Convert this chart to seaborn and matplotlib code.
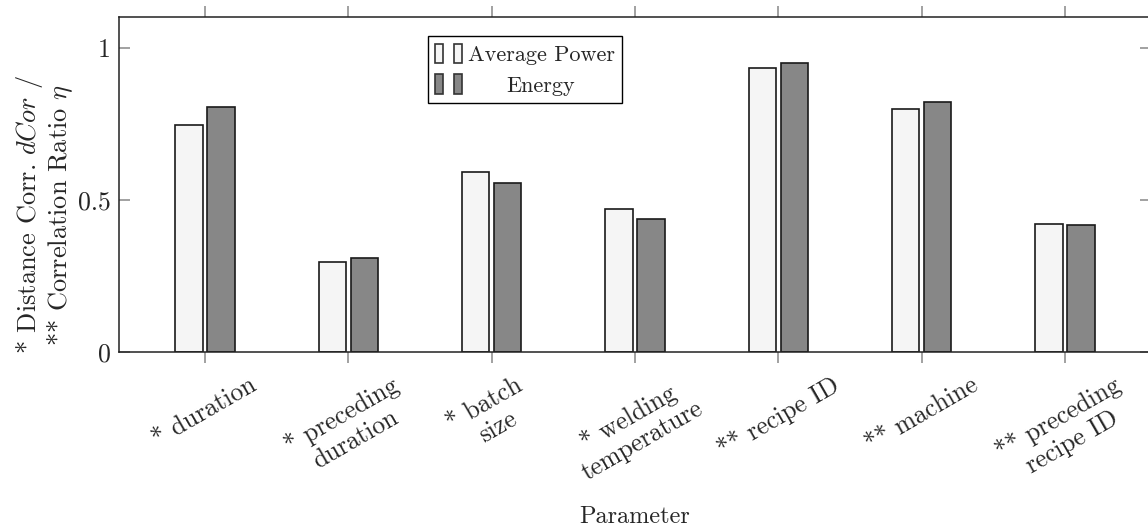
import matplotlib
matplotlib.use("Agg")
import matplotlib.pyplot as plt
import seaborn as sns
import pandas as pd
from matplotlib.patches import Rectangle
from matplotlib.legend_handler import HandlerTuple

categories = ["* duration", "* preceding\nduration", "* batch\nsize",
              "* welding\ntemperature", "** recipe ID", "** machine",
              "** preceding\nrecipe ID"]
series_names = ["Average Power", "Energy"]
avg_power = [0.747, 0.297, 0.592, 0.470, 0.934, 0.799, 0.420]
energy = [0.807, 0.308, 0.556, 0.438, 0.951, 0.822, 0.417]
y_ticks = [0, 0.5, 1]
y_tick_labels = ["0", "0.5", "1"]

df = pd.DataFrame({
    "Parameter": categories * 2,
    "value": avg_power + energy,
    "series": [series_names[0]] * len(categories) + [series_names[1]] * len(categories),
})

sns.set_style("white")
plt.rcParams["font.family"] = ["cmr10", "DejaVu Serif"]
plt.rcParams["mathtext.fontset"] = "cm"
plt.rcParams["axes.formatter.use_mathtext"] = True

colors = ["#f5f5f5", "#878787"]

fig = plt.figure(figsize=(11.48, 5.29), dpi=100)
ax = fig.add_axes([119 / 1148, 1 - 352 / 529, (1151 - 119) / 1148, (352 - 17) / 529])

sns.barplot(data=df, x="Parameter", y="value", hue="series", hue_order=series_names,
            palette=colors, width=0.45, gap=0.15, edgecolor="#1a1a1a", linewidth=1.2,
            legend=False, ax=ax, order=categories)

ax.set_xlim(-0.6, 6.6)
ax.set_ylim(0, 1.102)
ax.set_yticks(y_ticks)
ax.set_yticklabels(y_tick_labels, fontsize=18.5)
ax.set_xticks(range(len(categories)))
ax.set_xticklabels(categories, rotation=30, ha="center", va="top",
                   multialignment="center", fontsize=18.3, linespacing=1.15)

ax.tick_params(axis="x", direction="out", top=True, bottom=True, length=8,
               width=1.3, color="#9a9a9a", pad=7)
ax.tick_params(axis="y", direction="in", left=True, right=True, length=8,
               width=1.3, color="#9a9a9a", pad=6)

for s in ["left", "top", "bottom"]:
    ax.spines[s].set_color("#222222")
    ax.spines[s].set_linewidth(1.1)
ax.spines["right"].set_visible(False)

ax.set_xlabel("Parameter", fontsize=17.5, labelpad=13)
ax.set_ylabel("* Distance Corr. $dCor$ /\n** Correlation Ratio $\\eta$",
              fontsize=19, multialignment="center", linespacing=0.98)
ax.yaxis.set_label_coords(-0.043, 0.409)

handles = []
for c in colors:
    r1 = Rectangle((0, 0), 1, 1, facecolor=c, edgecolor="#333333", linewidth=1.2)
    r2 = Rectangle((0, 0), 1, 1, facecolor=c, edgecolor="#333333", linewidth=1.2)
    handles.append((r1, r2))

leg = ax.legend(handles, series_names, loc="upper left", bbox_to_anchor=(0.299, 0.943),
                borderaxespad=0, fontsize=16, frameon=True, fancybox=False,
                handler_map={tuple: HandlerTuple(ndivide=None, pad=0.5)},
                handlelength=1.2, handleheight=0.95, handletextpad=0.25,
                borderpad=0.35, labelspacing=0.42)
leg.get_frame().set_edgecolor("black")
leg.get_frame().set_linewidth(1.0)
leg.get_frame().set_alpha(1)

# center the shorter legend entry like the reference
fig.canvas.draw()
renderer = fig.canvas.get_renderer()
texts = leg.get_texts()
w0 = texts[0].get_window_extent(renderer).width
w1 = texts[1].get_window_extent(renderer).width
texts[1].set_x((w0 - w1) / 2)

fig.savefig("out.png", dpi=100)
